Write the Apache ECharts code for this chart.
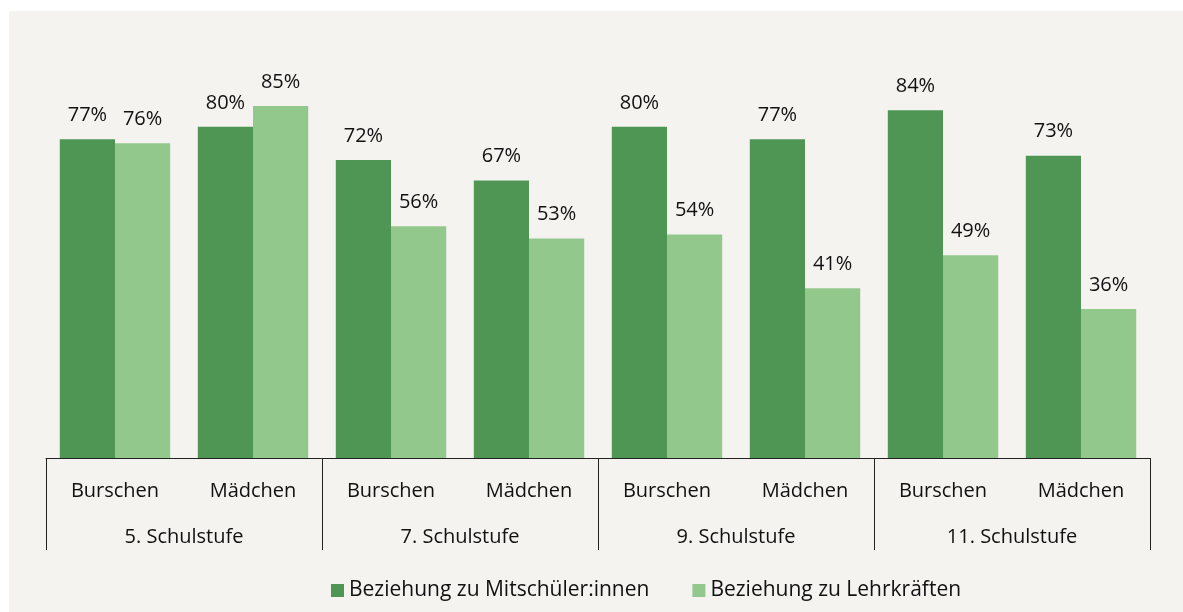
<!DOCTYPE html>
<html>
<head>
<meta charset="utf-8">
<script src="https://cdn.jsdelivr.net/npm/echarts@6/dist/echarts.min.js"></script>
<style>
  html, body { margin: 0; padding: 0; background: #ffffff; }
  #chart { position: absolute; left: 9px; top: 11px; width: 1174px; height: 601px; background: #f4f3f0; }
</style>
</head>
<body>
<div id="chart"></div>
<script>
    // Daten
    var gruppen = ['5. Schulstufe', '7. Schulstufe', '9. Schulstufe', '11. Schulstufe'];
    var kategorien = ['Burschen', 'Mädchen', 'Burschen', 'Mädchen', 'Burschen', 'Mädchen', 'Burschen', 'Mädchen'];
    var mitschueler = [77, 80, 72, 67, 80, 77, 84, 73];
    var lehrkraefte = [76, 85, 56, 53, 54, 41, 49, 36];

    var font = '"Open Sans", "Noto Sans", sans-serif';
    var fs = 20;
    var myChart = echarts.init(document.getElementById('chart'));
    var option = {
        backgroundColor: '#f4f3f0',
        textStyle: { fontFamily: font },
        grid: {
            left: 37,
            right: 33,
            top: 33,
            bottom: 154
        },
        legend: {
            bottom: 6,
            left: 317,
            itemWidth: 13,
            itemHeight: 13,
            itemGap: 43,
            icon: 'rect',
            textStyle: { fontSize: 21, color: '#111', fontFamily: font },
            data: ['Beziehung zu Mitschüler:innen', 'Beziehung zu Lehrkräften']
        },
        xAxis: [{
            type: 'category',
            data: kategorien,
            position: 'bottom',
            axisLine: { show: true, lineStyle: { color: '#222', width: 1 } },
            axisTick: { show: false },
            axisLabel: { fontSize: fs, color: '#111', margin: 23, interval: 0, fontFamily: font }
        }, {
            type: 'category',
            data: gruppen,
            position: 'bottom',
            axisLine: { show: false },
            axisTick: { show: true, length: 92, interval: 0, lineStyle: { color: '#222', width: 1 } },
            axisLabel: { fontSize: fs, color: '#111', margin: 69, interval: 0, fontFamily: font }
        }],
        yAxis: {
            type: 'value',
            min: 0,
            max: 100,
            show: false,
            splitLine: { show: false }
        },
        series: [{
            name: 'Beziehung zu Mitschüler:innen',
            type: 'bar',
            xAxisIndex: 0,
            data: mitschueler,
            barGap: '0%',
            barCategoryGap: '20%',
            itemStyle: { color: '#4f9654' },
            label: {
                show: true, position: 'top', distance: 14,
                formatter: '{c}%', fontSize: fs, color: '#111', fontFamily: font
            }
        }, {
            name: 'Beziehung zu Lehrkräften',
            type: 'bar',
            xAxisIndex: 0,
            data: lehrkraefte,
            barGap: '0%',
            barCategoryGap: '20%',
            itemStyle: { color: '#93c88d' },
            label: {
                show: true, position: 'top', distance: 14,
                formatter: '{c}%', fontSize: fs, color: '#111', fontFamily: font
            }
        }]
    };
    myChart.setOption(option);

    window.addEventListener('resize', function () {
        myChart.resize();
    });
</script>
</body>
</html>
